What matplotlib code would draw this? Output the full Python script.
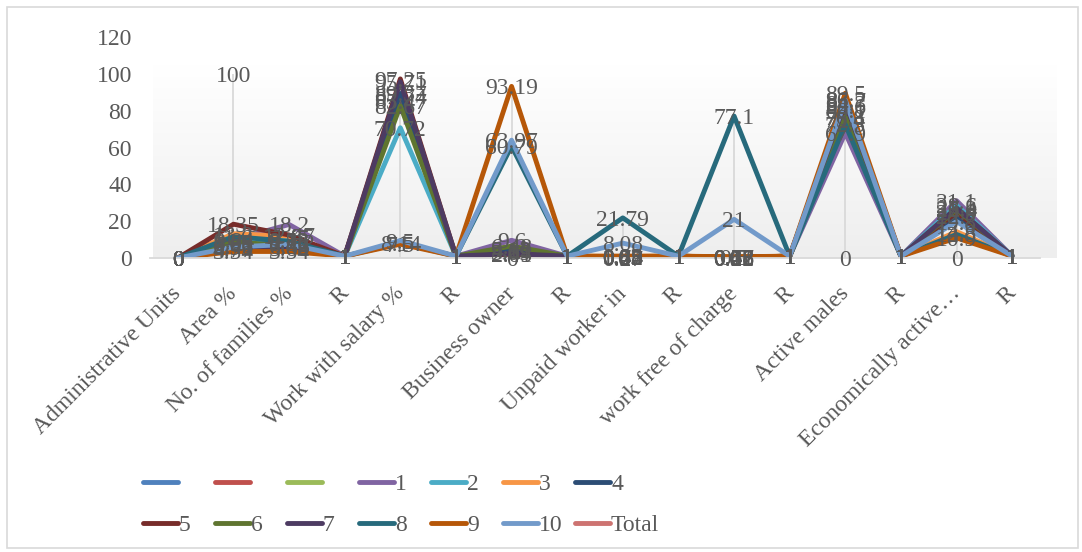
import numpy as np
import matplotlib
matplotlib.use("Agg")
import matplotlib.pyplot as plt
from matplotlib.colors import LinearSegmentedColormap
from matplotlib.lines import Line2D
from matplotlib.patches import Rectangle

nan = np.nan

categories = ["Administrative Units", "Area %", "No. of families %", "R",
              "Work with salary %", "R", "Business owner", "R",
              "Unpaid worker in", "R", "work free of charge", "R",
              "Active males", "R", "Economically active…", "R"]

series_names = ["", "", "", "1", "2", "3", "4", "5", "6", "7", "8", "9", "10", "Total"]
series_colors = ["#4F81BD", "#C0504D", "#9BBB59", "#8064A2", "#4BACC6", "#F79646",
                 "#2C4D75", "#772C2A", "#5F7530", "#4D3B62", "#276A7C", "#B65708",
                 "#729ACA", "#CD7371"]

empty_row = [nan] * 16
s1 = [0, 9.84, 18.2, 1, 85.47, 1, 9.6, 1, 0.52, 1, 0.28, 1, 67.9, 1, 31.1, 1]
s2 = [0, 7.66, 9.53, 1, 70.72, 1, 5.12, 1, 0.43, 1, 0.31, 1, 75.4, 1, 28.6, 1]
s3 = [0, 13.2, 11.85, 1, 87.74, 1, 3.09, 1, 0.88, 1, 0.5, 1, 86.2, 1, 14.3, 1]
s4 = [0, 6.41, 8.76, 1, 89.37, 1, 4.22, 1, 0.35, 1, 0.42, 1, 80.1, 1, 22.7, 1]
s5 = [0, 18.35, 12.47, 1, 97.25, 1, 2.05, 1, 0.27, 1, 0.18, 1, 82.6, 1, 24.9, 1]
s6 = [0, 8.92, 6.35, 1, 82.67, 1, 6.48, 1, 0.74, 1, 0.36, 1, 76.8, 1, 26.4, 1]
s7 = [0, 4.77, 5.68, 1, 95.71, 1, 2.41, 1, 0.39, 1, 0.22, 1, 84.3, 1, 27.2, 1]
s8 = [0, 11.6, 9.12, 1, 8.14, 1, 60.79, 1, 21.79, 1, 77.1, 1, 72.5, 1, 12.8, 1]
s9 = [0, 3.54, 3.54, 1, 7.5, 1, 93.19, 1, 1.02, 1, 0.67, 1, 89.5, 1, 10.9, 1]
s10 = [0, 5.96, 7.42, 1, 9.5, 1, 63.97, 1, 8.08, 1, 21, 1, 85.7, 1, 19.8, 1]
total = [nan, 100, nan, nan, nan, nan, 0, nan, 0, nan, 0, nan, 0, nan, 0, nan]

rows = [empty_row, empty_row, empty_row, s1, s2, s3, s4, s5, s6, s7, s8, s9, s10, total]

yticks = [0, 20, 40, 60, 80, 100, 120]

TXT = "#595959"
FS = 17
plt.rcParams["font.family"] = ["Liberation Serif", "DejaVu Serif"]

W, H = 1082, 552
fig = plt.figure(figsize=(W / 100, H / 100), dpi=100)


def px_box(x0, y0, x1, y1):
    return [x0 / W, 1 - y1 / H, (x1 - x0) / W, (y1 - y0) / H]


# gradient plot background
bg = fig.add_axes(px_box(153, 65, 1057, 258))
grad = np.linspace(0, 1, 256).reshape(-1, 1)
cmap = LinearSegmentedColormap.from_list("bg", ["#FFFFFF", "#EEEEEE"])
bg.imshow(grad, aspect="auto", cmap=cmap, extent=[0, 1, 0, 1])
bg.axis("off")

ax = fig.add_axes(px_box(150, 37, 1040, 258))
ax.set_facecolor("none")
x = np.arange(len(categories))

# drop lines from the highest value down to the axis
data = np.array(rows, dtype=float)
tops = np.nanmax(np.where(np.isnan(data), -np.inf, data), axis=0)
ax.vlines(x, 0, tops, colors="#D9D9D9", lw=1.3, zorder=1)

for vals, col in zip(rows, series_colors):
    ax.plot(x, vals, color=col, lw=3.5, solid_joinstyle="round",
            solid_capstyle="round", zorder=2)

for vals in rows:
    for i, v in enumerate(vals):
        if np.isnan(v):
            continue
        ax.text(i, v, f"{v:g}", ha="center", va="center_baseline",
                fontsize=FS, color=TXT, zorder=5)

ax.set_xlim(-0.5, len(categories) - 0.5)
ax.set_ylim(0, 120)
ax.set_yticks(yticks)
ax.set_xticks(x)
ax.set_xticklabels([])

# slanted category names hanging under the axis
for i, name in enumerate(categories):
    ax.annotate(name, xy=(i, 0), xycoords=("data", "axes fraction"),
                xytext=(-5, -18), textcoords="offset points",
                rotation=45, ha="right", va="top", rotation_mode="anchor",
                fontsize=FS, color=TXT, annotation_clip=False)

ax.tick_params(axis="x", length=0)
ax.tick_params(axis="y", length=0, pad=13, labelsize=FS, labelcolor=TXT)
for side in ["left", "right", "top"]:
    ax.spines[side].set_visible(False)
ax.spines["bottom"].set_color("#D9D9D9")
ax.spines["bottom"].set_linewidth(1.3)

# legend, two rows of seven
for k, (name, col) in enumerate(zip(series_names, series_colors)):
    r, c = divmod(k, 7)
    x0 = 143 + 72 * c
    yy = 1 - (482 + 41 * r) / H
    fig.add_artist(Line2D([x0 / W, (x0 + 35) / W], [yy, yy], color=col, lw=3.5,
                          solid_capstyle="round"))
    fig.text((x0 + 36) / W, yy, name, ha="left", va="center_baseline",
             fontsize=FS, color=TXT)

fig.add_artist(Rectangle((7 / W, 4 / H), 1071 / W, 541 / H, fill=False,
                         edgecolor="#D9D9D9", lw=1.2, transform=fig.transFigure))

fig.savefig("out.png", dpi=100)
